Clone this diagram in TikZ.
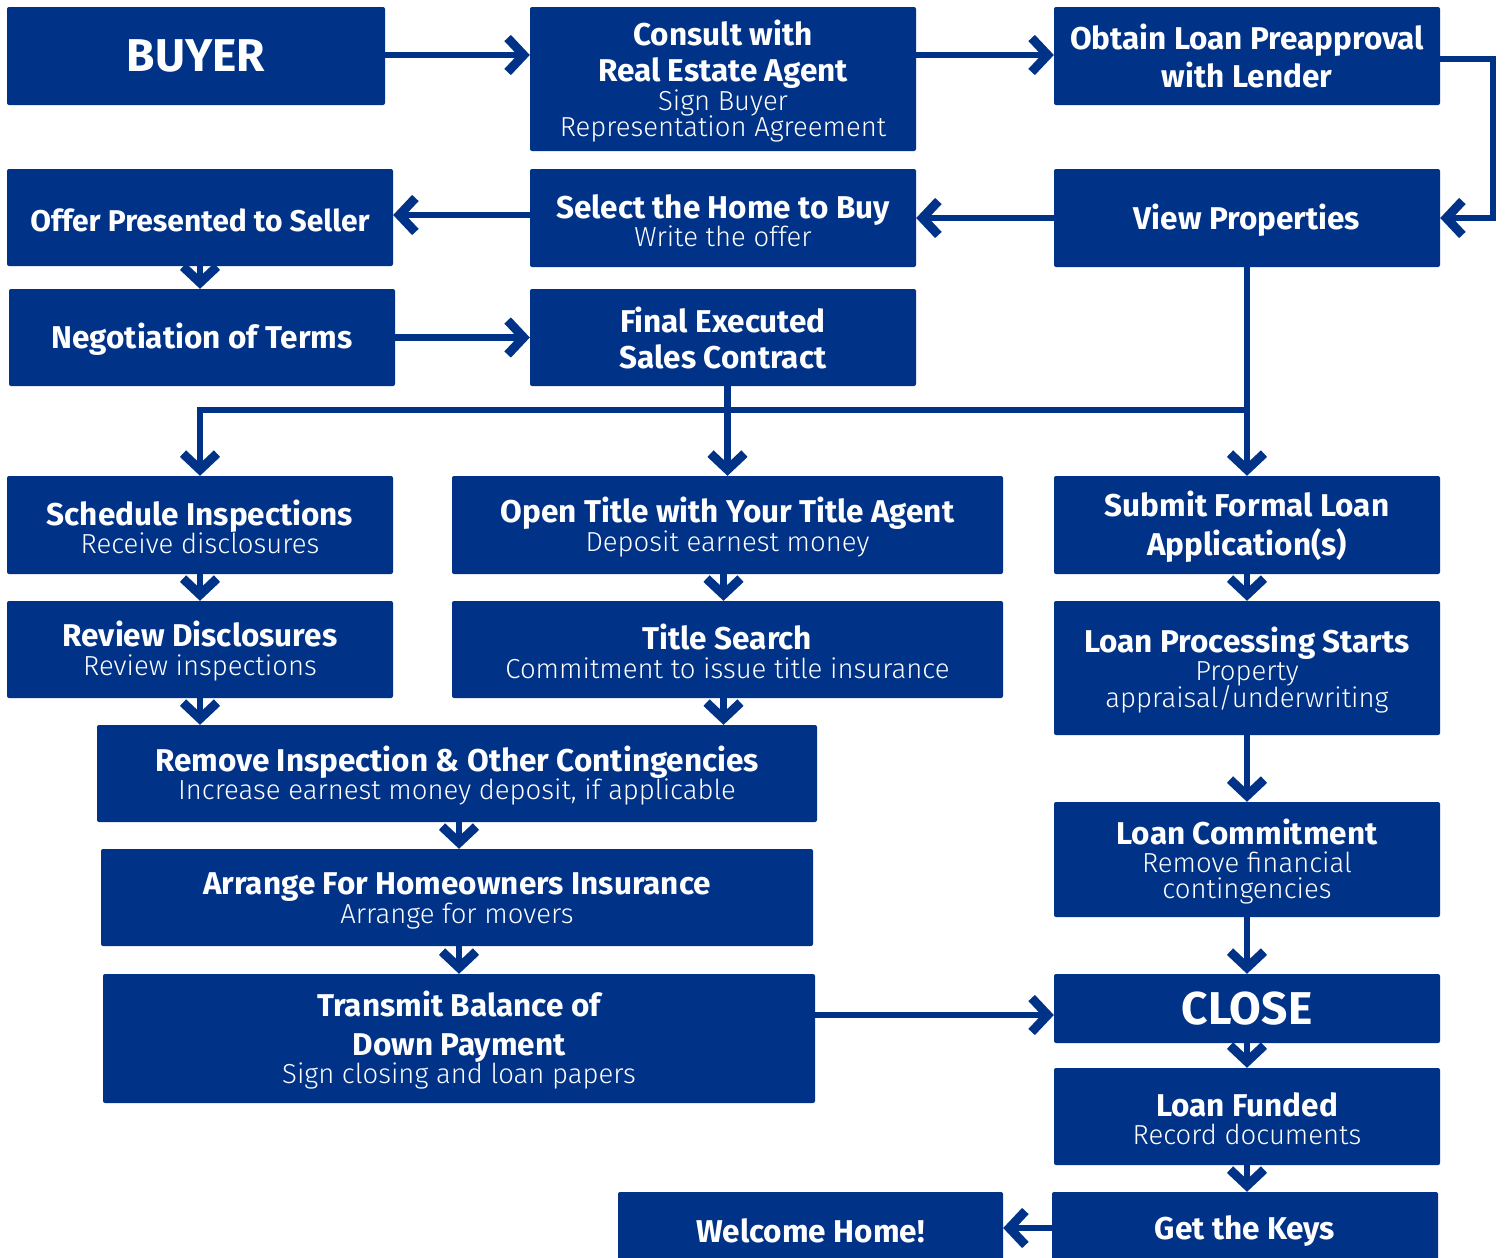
\documentclass[tikz,border=0pt]{standalone}
\usepackage{fontspec}
\setmainfont{Fira Sans}
\newfontfamily\lightfont{Fira Sans Light}
\usetikzlibrary{arrows.meta}
\definecolor{navy}{RGB}{0,50,135}
\newcommand{\subl}[1]{{\lightfont\mdseries\fontsize{27.5}{26}\selectfont #1}}
\newcommand{\topstrut}{\rule{0pt}{29pt}}
\begin{document}
\lineskiplimit=-100pt
\begin{tikzpicture}[x=1pt,y=-1pt,
 box/.style={fill=navy, rounded corners=2pt, inner sep=0pt, text=white, align=center,
   font=\fontsize{31.5}{26}\selectfont\bfseries, execute at begin node=\topstrut},
 bigbox/.style={box, font=\fontsize{46}{46}\selectfont\bfseries},
 conn/.style={draw=navy, line width=6.5pt, -{Straight Barb[length=16pt,width=34pt,line width=9pt,sharp]}},
 plainline/.style={draw=navy, line width=6.5pt}]
\useasboundingbox (0,0) rectangle (1505,1258);

% row 1
\node[bigbox, minimum width=378pt, minimum height=98pt] (buyer) at (196,56) {BUYER};
\node[box, minimum width=386pt, minimum height=144pt] (consult) at (723,79)
  {\topstrut Consult with\\[10pt] Real Estate Agent\\[3pt] \subl{Sign Buyer}\\ \subl{Representation Agreement}};
\node[box, minimum width=386pt, minimum height=98pt] (obtain) at (1247,56)
  {Obtain Loan Preapproval\\[12pt] with Lender};
% row 2
\node[box, minimum width=386pt, minimum height=97pt, font=\fontsize{30}{26}\selectfont\bfseries] (offer) at (200,217.5) {Offer Presented to Seller};
\node[box, minimum width=386pt, minimum height=98pt] (select) at (723,218)
  {\topstrut Select the Home to Buy\\[2pt] \subl{Write the offer}};
\node[box, minimum width=386pt, minimum height=98pt] (view) at (1247,218) {View Properties};
% row 3
\node[box, minimum width=386pt, minimum height=97pt] (neg) at (202,337.5) {Negotiation of Terms};
\node[box, minimum width=386pt, minimum height=97pt] (final) at (723,337.5)
  {Final Executed\\[10pt] Sales Contract};
% row 4
\node[box, minimum width=386pt, minimum height=98pt] (sched) at (200,525)
  {\topstrut Schedule Inspections\\[2pt] \subl{Receive disclosures}};
\node[box, minimum width=551pt, minimum height=98pt] (open) at (727.5,525)
  {\topstrut Open Title with Your Title Agent\\[3pt] \subl{Deposit earnest money}};
\node[box, minimum width=386pt, minimum height=98pt] (submit) at (1247,525)
  {\topstrut Submit Formal Loan\\[13pt] Application(s)};
% row 5
\node[box, minimum width=386pt, minimum height=97pt] (review) at (200,649.5)
  {\topstrut Review Disclosures\\[3pt] \subl{Review inspections}};
\node[box, minimum width=551pt, minimum height=97pt] (search) at (727.5,649.5)
  {\topstrut Title Search\\[3pt] \subl{Commitment to issue title insurance}};
\node[box, minimum width=386pt, minimum height=134pt] (proc) at (1247,668)
  {\topstrut Loan Processing Starts\\[2pt] \subl{Property}\\[1pt] \subl{appraisal/underwriting}};
% row 6
\node[box, minimum width=720pt, minimum height=97pt] (remove) at (457,773.5)
  {\topstrut Remove Inspection \& Other Contingencies\\[2pt] \subl{Increase earnest money deposit, if applicable}};
\node[box, minimum width=386pt, minimum height=115pt] (commit) at (1247,859.5)
  {\topstrut Loan Commitment\\[2pt] \subl{Remove financial}\\ \subl{contingencies}};
% row 7
\node[box, minimum width=712pt, minimum height=97pt] (arrange) at (457,897.5)
  {\topstrut Arrange For Homeowners Insurance\\[3pt] \subl{Arrange for movers}};
% row 8
\node[box, minimum width=712pt, minimum height=129pt] (transmit) at (459,1038.5)
  {\topstrut Transmit Balance of\\[13pt] Down Payment\\[2pt] \subl{Sign closing and loan papers}};
\node[bigbox, minimum width=386pt, minimum height=69pt] (close) at (1247,1008.5) {CLOSE};
\node[box, minimum width=386pt, minimum height=97pt] (funded) at (1247,1116.5)
  {\topstrut Loan Funded\\[2pt] \subl{Record documents}};
\node[box, minimum width=386pt, minimum height=72pt] (keys) at (1245,1228) {Get the Keys};
\node[box, minimum width=385pt, minimum height=72pt] (welcome) at (810.5,1228) {Welcome Home!};

% connectors
\draw[conn] ([yshift=1pt]buyer.east) -- ([yshift=1pt]buyer.east -| consult.west);
\draw[conn] ([yshift=1pt]obtain.west -| consult.east) -- ([yshift=1pt]obtain.west);
\draw[conn] ([yshift=-3pt]obtain.east) -- ++(53,0) |- (view.east);
\draw[conn] (view.west) -- (view.west -| select.east);
\draw[conn] ([yshift=3pt]select.west) -- ([yshift=3pt]select.west -| offer.east);
\draw[conn] (offer.south) -- (offer.south |- neg.north);
\draw[conn] (neg.east) -- (neg.east -| final.west);
\coordinate (split) at (view.south |- 0,410);
\draw[plainline] (view.south) -- (split);
\draw[conn] (split) -- (submit.north);
\draw[conn] (split) -| (sched.north);
\draw[conn] (open.north |- final.south) -- (open.north);
\draw[conn] ([xshift=-4pt]open.south) -- ([xshift=-4pt]search.north);
\draw[conn] (sched.south) -- (review.north);
\draw[conn] (submit.south) -- (proc.north);
\draw[conn] (review.south) -- (review.south |- remove.north);
\draw[conn] ([xshift=-4pt]search.south) -- ([xshift=-4pt]search.south |- remove.north);
\draw[conn] (proc.south) -- (commit.north);
\draw[conn] ([xshift=2pt]remove.south) -- ([xshift=2pt]remove.south |- arrange.north);
\draw[conn] ([xshift=2pt]arrange.south) -- ([xshift=2pt]arrange.south |- transmit.north);
\draw[conn] ([yshift=-6.5pt]close.west -| transmit.east) -- ([yshift=-6.5pt]close.west);
\draw[conn] (commit.south) -- (close.north);
\draw[conn] (close.south) -- (funded.north);
\draw[conn] (funded.south) -- (funded.south |- keys.north);
\draw[conn] (keys.west) -- (keys.west -| welcome.east);
\end{tikzpicture}
\end{document}
